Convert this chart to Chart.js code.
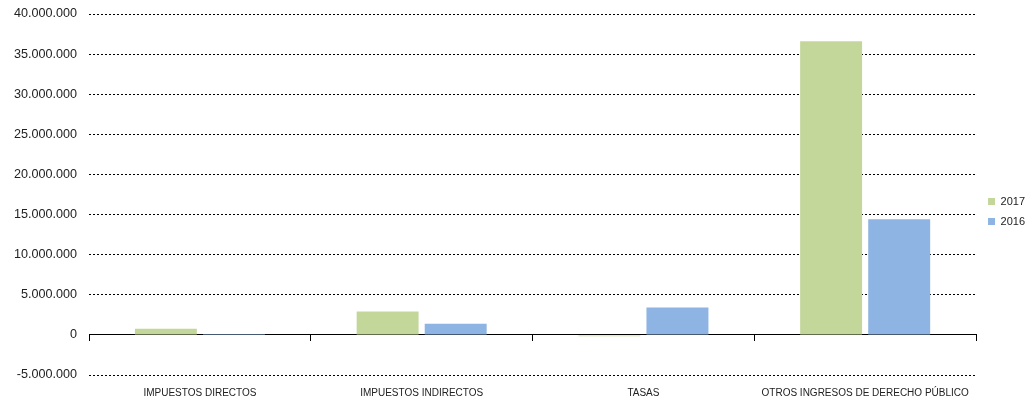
<!DOCTYPE html>
<html>
<head>
<meta charset="utf-8">
<script src="https://cdn.jsdelivr.net/npm/chart.js@4/dist/chart.umd.min.js"></script>
<style>
  html, body { margin: 0; padding: 0; background: #fff; }
  #wrap { width: 1028px; height: 403px; }
</style>
</head>
<body>
<div id="wrap"><canvas id="myChart"></canvas></div>
<script>
// 区分とデータ
const categories = ['IMPUESTOS DIRECTOS', 'IMPUESTOS INDIRECTOS', 'TASAS', 'OTROS INGRESOS DE DERECHO PÚBLICO'];
const series_names = ['2017', '2016'];
const values_2017 = [750000, 2900000, -180000, 36600000];
const values_2016 = [120000, 1400000, 3400000, 14400000];
const y_min = -5000000;
const y_max = 40000000;
const y_step = 5000000;

// 3桁ごとにドットを入れる
function fmt(v){
    return String(v).replace(/\B(?=(\d{3})+(?!\d))/g, '.');
}

// 凡例を少し右下にずらす
const legendShift = {
    id: 'legendShift',
    afterLayout(chart){
        const lg = chart.legend;
        lg.left += 3; lg.right += 3;
        lg.top += 6; lg.bottom += 6;
    }
};

Chart.defaults.font.family = '"Liberation Sans", Arial, sans-serif';
Chart.defaults.color = '#222';

let ctx = document.getElementById('myChart');
let myChart = new Chart(ctx, {
    type: 'bar',
    data: {
        labels: categories,
        datasets: [{
            label: series_names[0],
            data: values_2017,
            backgroundColor: '#c4d79b',
            categoryPercentage: 0.614,
            barPercentage: 0.91
        }, {
            label: series_names[1],
            data: values_2016,
            backgroundColor: '#8db4e2',
            categoryPercentage: 0.614,
            barPercentage: 0.91
        }]
    },
    plugins: [legendShift],
    options: {
        responsive: true,
        maintainAspectRatio: false,
        animation: false,
        layout: {
            padding: { left: 2, top: 0, right: -4, bottom: -8 }
        },
        plugins: {
            tooltip: { enabled: false },
            legend: {
                position: 'right',
                labels: {
                    boxWidth: 7,
                    boxHeight: 7,
                    font: { size: 11 },
                    padding: 9
                }
            }
        },
        scales: {
            x: {
                grid: { display: false, drawTicks: false },
                border: { display: false },
                ticks: { font: { size: 10 }, padding: 12, maxRotation: 0 }
            },
            x2: {
                type: 'category',
                position: { y: 0 },
                offset: true,
                grid: {
                    offset: true,
                    drawOnChartArea: false,
                    drawTicks: true,
                    tickLength: 6,
                    color: '#000'
                },
                border: { display: true, color: '#000', width: 1 },
                ticks: { display: false, padding: 0 }
            },
            y: {
                min: y_min,
                max: y_max,
                afterFit: function(scale){ scale.paddingTop = 14; },
                grid: {
                    drawTicks: false,
                    color: function(c){ return c.tick && c.tick.value === 0 ? 'rgba(0,0,0,0)' : '#000'; },
                    lineWidth: 1
                },
                border: { display: false, dash: [2, 2] },
                ticks: {
                    stepSize: y_step,
                    padding: 12,
                    font: { size: 12.6 },
                    callback: function(value){ return fmt(value); }
                }
            }
        }
    }
});
</script>
</body>
</html>
